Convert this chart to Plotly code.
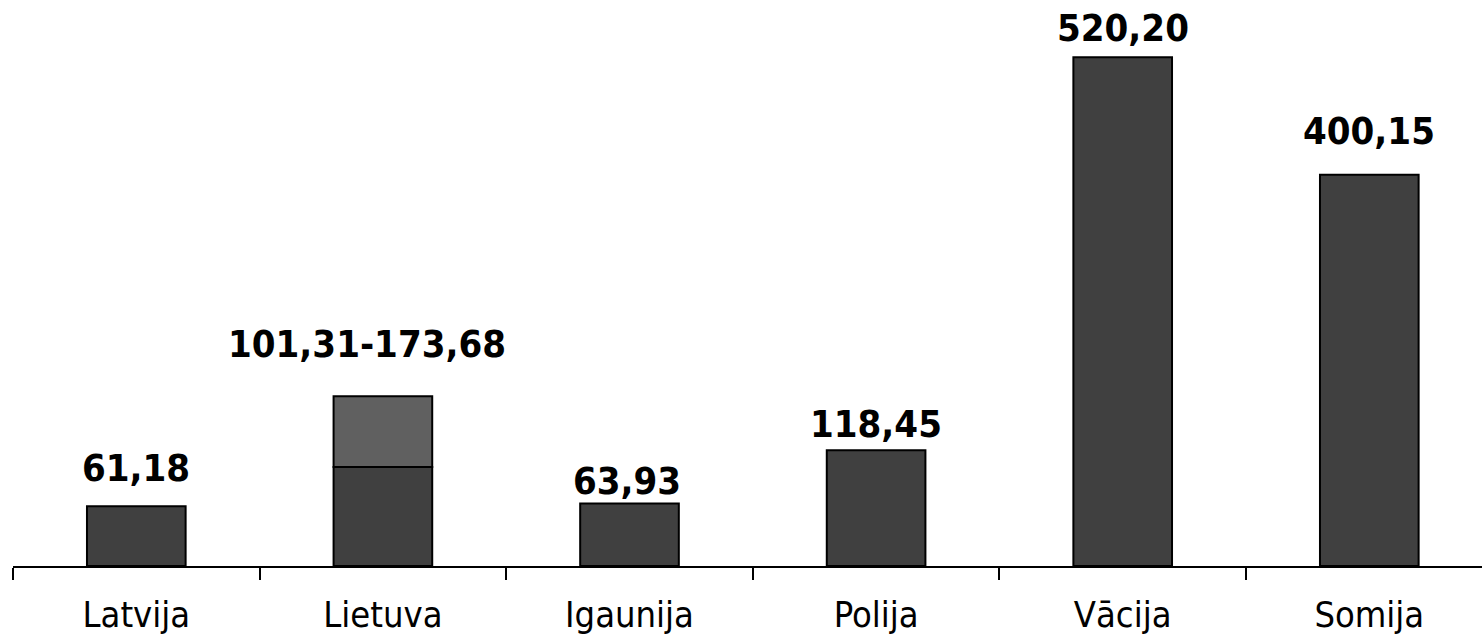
import plotly.graph_objects as go

categories = ["Latvija", "Lietuva", "Igaunija", "Polija", "Vācija", "Somija"]
values = [61.18, 101.31, 63.93, 118.45, 520.20, 400.15]
lietuva_upper = 173.68
value_labels = ["61,18", "101,31-173,68", "63,93", "118,45", "520,20", "400,15"]

# label placement offsets (pixels) relative to the top of each bar
label_dy = [35, 49, 19, 23, 26, 41]
label_dx = [0, -16, -3, 0, 0, 0]

FONT = "DejaVu Sans Condensed, DejaVu Sans, sans-serif"

fig = go.Figure()
fig.add_trace(go.Bar(
    x=categories, y=values, width=0.4,
    marker=dict(color="#404040", line=dict(color="#000000", width=2)),
    hoverinfo="skip",
))
upper_seg = [None] * len(categories)
upper_seg[1] = lietuva_upper - values[1]
base_seg = [None] * len(categories)
base_seg[1] = values[1]
fig.add_trace(go.Bar(
    x=categories, y=upper_seg, base=base_seg, width=0.4,
    marker=dict(color="#606060", line=dict(color="#000000", width=2)),
    hoverinfo="skip",
))

tops = list(values)
tops[1] = lietuva_upper
for cat, top, lab, dy, dx in zip(categories, tops, value_labels, label_dy, label_dx):
    fig.add_annotation(
        x=cat, y=top, text="<b>" + lab + "</b>", showarrow=False,
        yanchor="middle", xanchor="center", yshift=dy + 3, xshift=dx,
        font=dict(family=FONT, size=38, color="#000000"),
    )

fig.update_layout(
    width=1482, height=637,
    margin=dict(l=13, r=0, t=0, b=71),
    plot_bgcolor="white", paper_bgcolor="white",
    showlegend=False, barmode="overlay",
    font=dict(family=FONT, size=36, color="#000000"),
)
fig.update_xaxes(
    type="category", range=[-0.5, 5.457],
    showline=True, linecolor="#000000", linewidth=2,
    ticks="outside", tickson="boundaries", ticklen=12, tickwidth=2, tickcolor="#000000",
    ticklabelstandoff=16,
    showgrid=False, zeroline=False,
    tickfont=dict(family=FONT, size=36, color="#000000"),
)
fig.update_yaxes(visible=False, range=[0, 578.7], showgrid=False, zeroline=False)

fig.write_html(
    "out.html",
    config={"displayModeBar": False, "staticPlot": True},
    post_script="document.body.style.margin='0';document.body.style.overflow='hidden';",
)
